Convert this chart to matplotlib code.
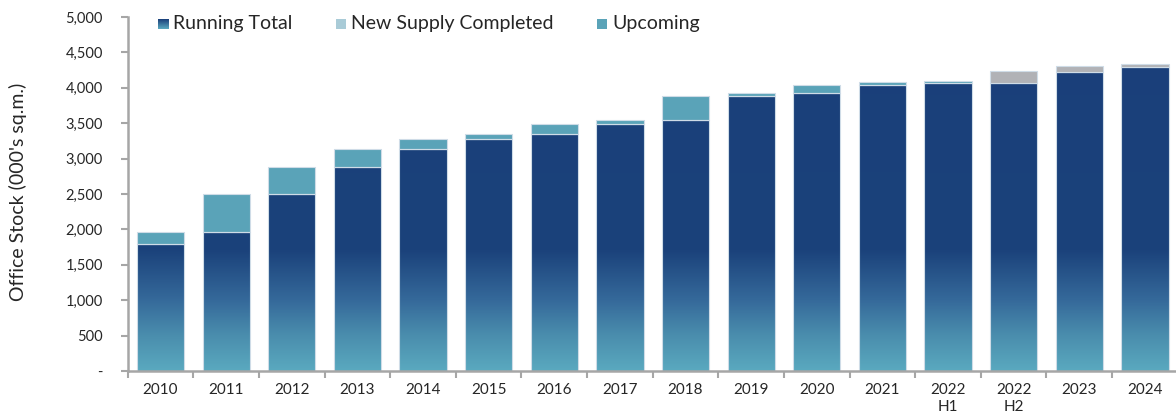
import numpy as np
import matplotlib
matplotlib.use("Agg")
import matplotlib.pyplot as plt
from matplotlib.colors import LinearSegmentedColormap
from matplotlib.ticker import FuncFormatter, FixedLocator

plt.rcParams['font.family'] = ['Lato', 'DejaVu Sans']

categories = ["2010", "2011", "2012", "2013", "2014", "2015", "2016", "2017",
              "2018", "2019", "2020", "2021", "2022\nH1", "2022\nH2", "2023", "2024"]
running_total = [1798, 1963, 2500, 2880, 3131, 3273, 3347, 3484,
                 3540, 3879, 3929, 4041, 4073, 4073, 4230, 4298]
new_supply = [165, 537, 380, 251, 142, 74, 137, 58,
              340, 52, 111, 37, 19, 0, 0, 0]
upcoming = [0, 0, 0, 0, 0, 0, 0, 0,
            0, 0, 0, 0, 0, 160, 74, 34]

NAVY = "#1a3f7a"
TEAL = "#5aa3b8"
LIGHT = "#a9cbd7"
GREY = "#b1b2b6"
TEXT = "#262626"
SPINE = "#a6a6a6"

grad_cmap = LinearSegmentedColormap.from_list(
    "rt", [(0.0, "#5aa9bf"), (0.1, "#4a8dad"), (0.2, "#35699a"),
           (0.34, "#1b427b"), (1.0, NAVY)])

W, H = 1176, 420
fig = plt.figure(figsize=(W / 100, H / 100), dpi=100)
ax = fig.add_axes([127.7 / W, 1 - 371 / H, 1050 / W, 354 / H])

x = np.arange(len(categories))
bw = 0.72
edge = "#cfdce7"

rt_bars = ax.bar(x, running_total, width=bw, color="none", edgecolor=edge, linewidth=0.8, zorder=2)
ax.bar(x, new_supply, width=bw, bottom=running_total, color=TEAL, edgecolor=edge, linewidth=0.8, zorder=2)
ax.bar(x, upcoming, width=bw, bottom=running_total, color=GREY, edgecolor=edge, linewidth=0.8, zorder=2)

ymax = 5000
grad = np.linspace(0, 1, 512).reshape(-1, 1)
for b in rt_bars:
    x0 = b.get_x()
    im = ax.imshow(grad, cmap=grad_cmap, origin="lower", aspect="auto",
                   extent=(x0, x0 + b.get_width(), 0, ymax), zorder=1.5,
                   interpolation="bilinear")
    im.set_clip_path(b)

ax.set_xlim(-0.5, len(categories) - 0.5)
ax.set_ylim(0, ymax)

ax.yaxis.set_major_locator(FixedLocator(np.arange(0, 5001, 500)))
ax.yaxis.set_major_formatter(FuncFormatter(lambda v, p: "-" if v == 0 else f"{int(v):,}"))

ax.set_xticks(np.arange(-0.5, len(categories), 1.0))
ax.set_xticklabels([])
ax.set_xticks(x, minor=True)
ax.set_xticklabels(categories, minor=True)
ax.tick_params(axis="x", which="major", length=5, width=1.5, color=SPINE, direction="out")
ax.tick_params(axis="x", which="minor", length=0, pad=9, labelsize=11, labelcolor=TEXT)
ax.tick_params(axis="y", length=5, width=1.5, color=SPINE, direction="out", pad=13,
               labelsize=10.5, labelcolor=TEXT)

for s in ["top", "right"]:
    ax.spines[s].set_visible(False)
for s in ["left", "bottom"]:
    ax.spines[s].set_color(SPINE)
    ax.spines[s].set_linewidth(1.8)

fig.text(18 / W, 1 - 192 / H, "Office Stock (000's sq.m.)", rotation=90,
         ha="center", va="center", fontsize=14, color=TEXT)

# legend
leg_items = [("Running Total", 158, None), ("New Supply Completed", 336, LIGHT), ("Upcoming", 597, TEAL)]
sw = 10
ly = 24
for label, lx, col in leg_items:
    sax = fig.add_axes([lx / W, 1 - (ly + sw / 2) / H, sw / W, sw / H])
    sax.set_axis_off()
    if col is None:
        sax.imshow(np.linspace(0, 1, 64).reshape(-1, 1), cmap=LinearSegmentedColormap.from_list(
            "lg", ["#5aa9bf", NAVY]), origin="lower", aspect="auto", extent=(0, 1, 0, 1))
    else:
        sax.add_patch(plt.Rectangle((0, 0), 1, 1, color=col))
    sax.set_xlim(0, 1)
    sax.set_ylim(0, 1)
    fig.text((lx + sw + 5) / W, 1 - ly / H, label, ha="left", va="center",
             fontsize=14, color=TEXT)

fig.savefig("out.png", dpi=100)
